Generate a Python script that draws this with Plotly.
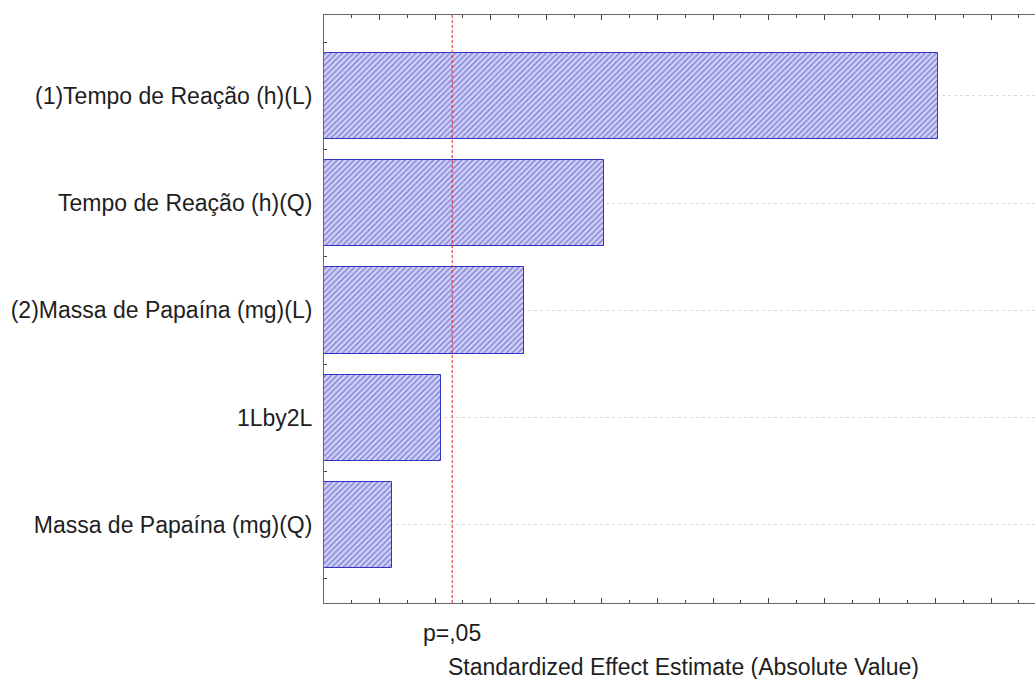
import plotly.graph_objects as go

categories = [
    "(1)Tempo de Reação (h)(L)",
    "Tempo de Reação (h)(Q)",
    "(2)Massa de Papaína (mg)(L)",
    "1Lby2L",
    "Massa de Papaína (mg)(Q)",
]
effects = [11.05, 5.04, 3.60, 2.10, 1.22]
positions = [0, 1, 2, 3, 4]
p_crit = 2.306
p_label = "p=,05"
x_title = "Standardized Effect Estimate (Absolute Value)"

FONT = "Liberation Sans, Arial, sans-serif"
TXT = "#1e1e1e"
FS = 23

fig = go.Figure()
fig.add_trace(go.Bar(
    x=effects, y=positions, orientation="h", width=0.804,
    marker=dict(
        color="#d4d4f6",
        line=dict(color="#3434c4", width=1),
        pattern=dict(shape="/", fgcolor="#3c3cc4", bgcolor="#d4d4f6",
                     size=4, solidity=0.42),
    ),
    showlegend=False, hoverinfo="skip",
))

fig.add_shape(type="line", xref="x", yref="paper", x0=p_crit, x1=p_crit,
              y0=0, y1=1, line=dict(color="#e02828", width=1, dash="3px,2px"))

fig.add_annotation(x=p_crit, xref="x", y=0, yref="paper", yshift=-30,
                   text=p_label, showarrow=False, yanchor="middle",
                   font=dict(family=FONT, size=FS, color=TXT))

fig.add_annotation(x=0.5063, xref="paper", y=0, yref="paper", yshift=-64,
                   text=x_title, showarrow=False, yanchor="middle",
                   xanchor="center",
                   font=dict(family=FONT, size=FS, color=TXT))

fig.update_layout(
    width=1035, height=679,
    margin=dict(l=324, r=0, t=15, b=76),
    paper_bgcolor="white", plot_bgcolor="white",
    font=dict(family=FONT, size=FS, color=TXT),
    bargap=0,
)
fig.update_xaxes(
    range=[0, 12.79], showgrid=False, zeroline=False,
    showline=True, linecolor="#666666", linewidth=1, mirror="allticks",
    tickmode="linear", tick0=0, dtick=1, ticks="inside", ticklen=5,
    tickcolor="#444444", showticklabels=False,
    minor=dict(tick0=0, dtick=0.5, ticks="inside", ticklen=3,
               tickcolor="#444444", showgrid=False),
)
fig.update_yaxes(
    range=[4.727, -0.753], zeroline=False,
    showline=True, linecolor="#666666", linewidth=1, mirror=False,
    tickmode="array", tickvals=positions, ticktext=categories, ticks="",
    showgrid=True, gridcolor="#dadada", gridwidth=1, griddash="dot",
    ticklabelstandoff=6,
    minor=dict(tick0=0.5, dtick=1, ticks="inside", ticklen=3,
               tickcolor="#444444", showgrid=False),
    tickfont=dict(size=FS, color=TXT),
)

fig.write_html("out.html")
